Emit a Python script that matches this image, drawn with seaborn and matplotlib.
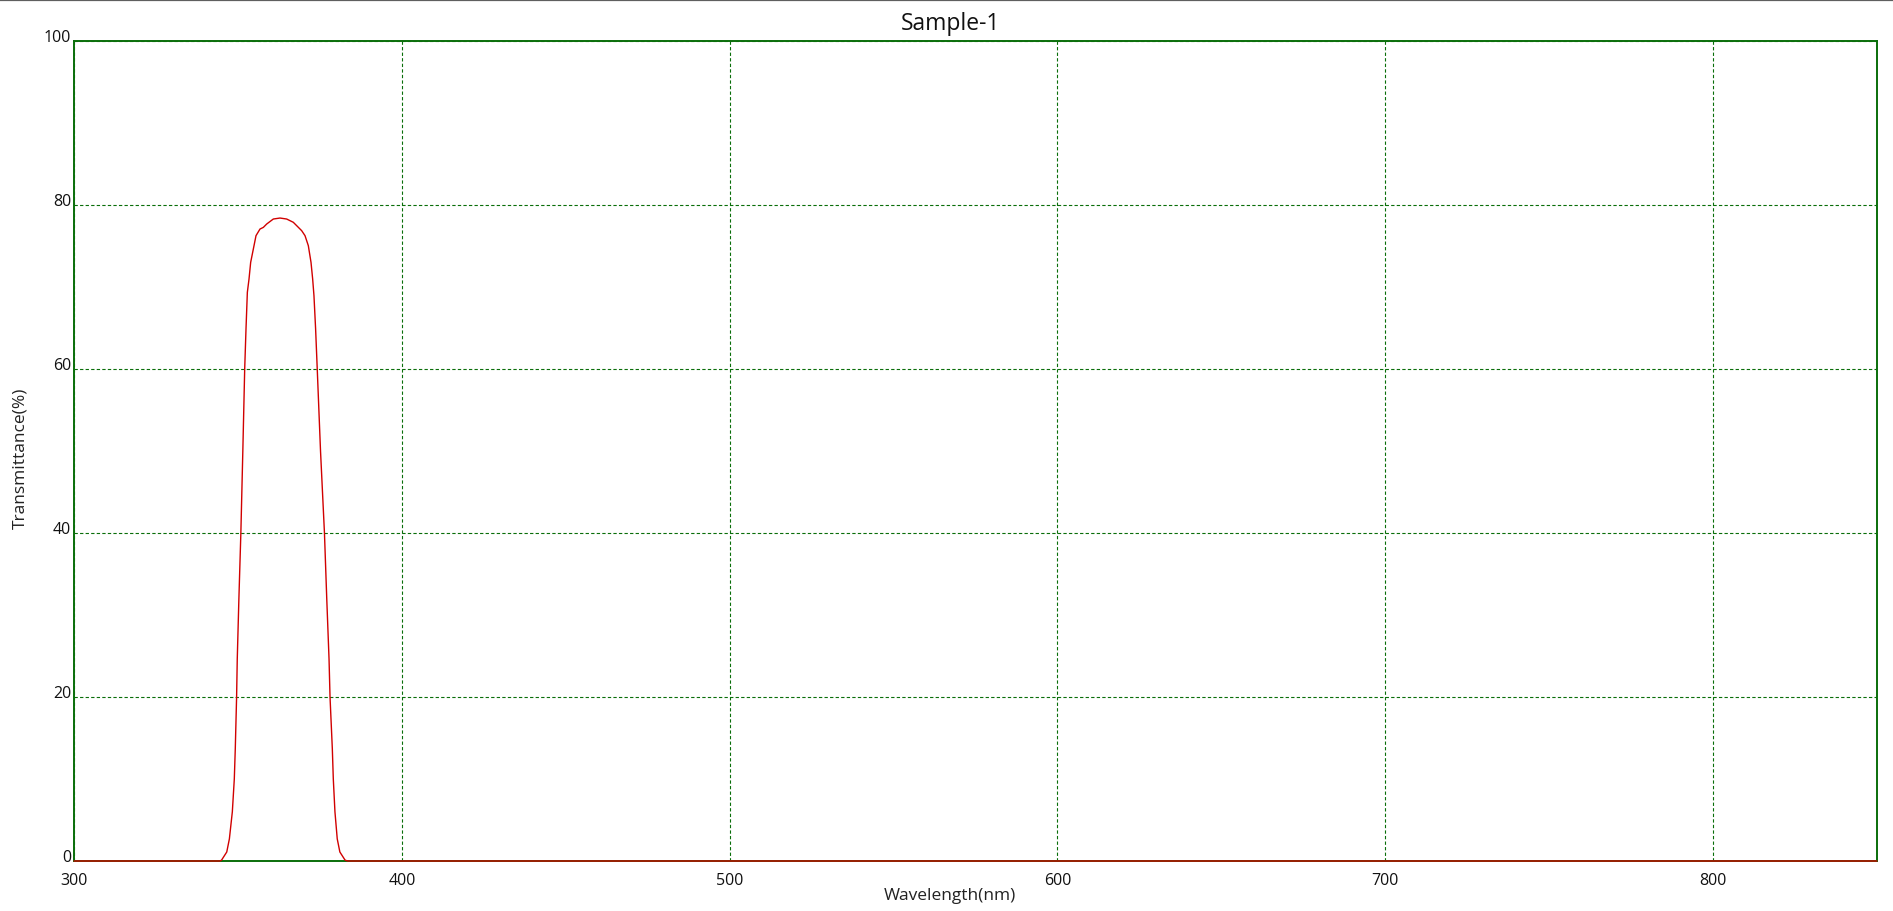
import matplotlib
matplotlib.use("Agg")
import matplotlib.pyplot as plt
from matplotlib.lines import Line2D
import seaborn as sns
import pandas as pd

# ---- data ----
wavelength = [300, 344.5, 345.0, 346.6, 347.4, 348.3, 348.9, 349.2, 349.6, 349.8,
              350.3, 350.9, 351.5, 352.07, 352.47, 352.88, 353.39, 353.89, 354.91, 355.52,
              356.74, 357.76, 358.78, 360.8, 362.84, 364.87, 366.9, 369.45, 370.47, 371.48,
              372.3, 372.8, 373.2, 373.7, 374.2,
              375.2, 376.4, 377.1, 377.8, 378.1, 378.8, 379.1, 379.6, 380.3, 381.1,
              382.7, 383.5, 850]
transmittance = [0, 0, 0.1, 1.1, 2.7, 6, 10, 13.7, 20, 24.6,
                 32, 40, 50, 60.0, 64.9, 69.35, 70.98, 73.0, 75.04, 76.26,
                 77.07, 77.27, 77.68, 78.29, 78.41, 78.29, 77.89, 76.87, 76.26, 75.04,
                 73.0, 70.98, 68.94, 64.9, 60.0,
                 50, 40, 32, 24.6, 20, 13.7, 10, 6, 2.7, 1.1,
                 0.1, 0, 0]
x_ticks = [300, 400, 500, 600, 700, 800]
y_ticks = [0, 20, 40, 60, 80, 100]
title_text = "Sample-1"
x_label = "Wavelength(nm)"
y_label = "Transmittance(%)"

df = pd.DataFrame({"wl": wavelength, "T": transmittance})

sns.set_style("white")
plt.rcParams["font.family"] = ["Open Sans", "DejaVu Sans"]

W, H = 1893, 912
fig = plt.figure(figsize=(W / 100, H / 100), dpi=100)
ax = fig.add_axes([74 / W, 1 - 862 / H, (1877 - 74) / W, (862 - 42) / H])

grid_color = "#0a6e0a"
ax.set_xlim(300, 850)
ax.set_ylim(0, 100)
ax.set_xticks(x_ticks)
ax.set_yticks(y_ticks)
ax.grid(True, color=grid_color, linestyle=(0, (3, 2)), linewidth=0.8)
ax.set_axisbelow(True)

sns.lineplot(data=df, x="wl", y="T", ax=ax, color="#d10000", linewidth=1.0, zorder=3)
for ln in ax.get_lines():
    ln.set_clip_on(False)

for s in ax.spines.values():
    s.set_color(grid_color)
    s.set_linewidth(1.4)
    s.set_visible(True)
    s.set_zorder(2)

ax.tick_params(axis="both", length=0, labelsize=11.5, labelcolor="#111111")
ax.tick_params(axis="x", pad=8)
ax.tick_params(axis="y", pad=2)
for lab in ax.get_yticklabels():
    lab.set_verticalalignment("baseline")

ax.set_xlabel(x_label, fontsize=12.5, color="#222222")
ax.set_ylabel(y_label, fontsize=12.5, color="#222222")
ax.xaxis.set_label_coords((950 - 74) / (1877 - 74), -(896 - 862) / (862 - 42))
ax.yaxis.set_label_coords(-(74 - 20) / (1877 - 74), (862 - 458) / (862 - 42))
ax.xaxis.label.set_verticalalignment("center")
ax.yaxis.label.set_verticalalignment("center")

fig.text(950 / W, 1 - 24 / H, title_text, ha="center", va="center", fontsize=16.5, color="#111111")

fig.add_artist(Line2D([0, 1], [1 - 1 / H, 1 - 1 / H], transform=fig.transFigure,
                      color="#5f5f5f", linewidth=1.6))

fig.savefig("out.png", dpi=100, facecolor="white")
